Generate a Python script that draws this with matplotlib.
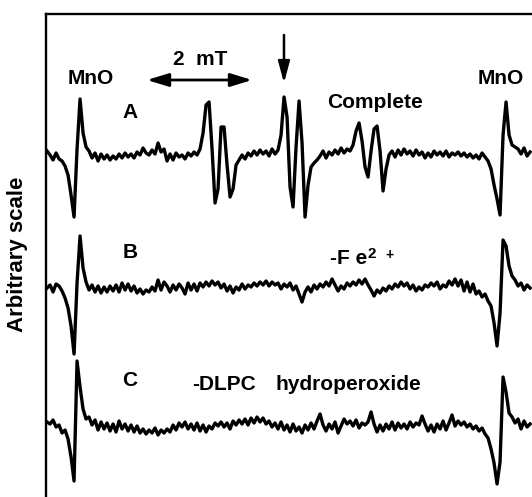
import numpy as np
import matplotlib
matplotlib.use("Agg")
import matplotlib.pyplot as plt

plt.rcParams["font.family"] = ["Liberation Sans", "DejaVu Sans"]
plt.rcParams["font.weight"] = "bold"

# magnetic field (mT) of each sample, left edge of the frame = 0
field = np.linspace(0.02, 9.22, 162)

# ESR signal of the three samples (arbitrary units, up = positive)
trace_a = [6, 2, -3, 4, -2, -4, -9, -18, -38, -60,
           8, 58, 24, 10, 6, -1, 4, -4, 3, -2,
           2, -3, 1, -2, 3, -1, 4, 0, 3, -1,
           5, 2, 9, 4, 2, 7, 3, 14, 5, 8,
           -4, 3, -3, 4, 0, 2, -2, 4, 1, 5,
           2, 8, 24, 52, 55, 8, -46, -32, 30, 30,
           -8, -40, -32, -8, -3, 2, -2, 4, 1, 6,
           2, 7, 3, 6, 1, 8, 3, 7, 22, 60,
           40, -30, -50, 10, 56, 14, -60, -28, -10, -6,
           -3, 1, 6, -1, 5, 2, 7, 3, 9, 4,
           8, 6, 12, 26, 34, 16, -10, -20, 6, 28,
           31, 6, -34, -12, 2, 6, 0, 7, 2, 8,
           3, 6, 1, 7, 2, 5, -1, 4, 0, 6,
           2, 5, 1, 6, 0, 4, 2, 5, 1, 4,
           0, 3, -1, 2, -2, 4, 0, -4, -12, -28,
           -42, -58, 22, 55, 22, 12, 10, 8, 3, 9,
           1, 5]

trace_b = [0, 3, -4, 4, 2, -3, -10, -20, -38, -66,
           5, 52, 20, 6, -2, 3, -4, 2, -5, 1,
           -4, 2, -3, 3, -4, 5, -2, 4, -3, 2,
           -5, -1, -6, -2, -4, 1, -3, 8, -2, 6,
           2, -4, 3, -2, 4, 0, -6, 5, -2, 4,
           -3, 5, 1, 6, 2, 7, 3, 6, 0, 4,
           -3, 2, -5, 1, -2, 4, -1, 3, 1, 5,
           2, 6, 3, 7, 2, 6, 3, 5, -1, 4,
           1, 5, -2, 2, -6, -14, -4, 1, -4, 3,
           -1, 4, 1, 6, 2, 9, 3, -3, 2, -1,
           5, 2, 6, 3, 8, 4, 9, 3, -2, -8,
           -2, -5, 0, -3, 2, -1, 4, 1, 6, 2,
           5, -1, 3, -3, 1, -2, 3, 1, 5, 2,
           6, -1, 3, 1, 7, 3, 9, 2, 8, -3,
           6, -4, 4, -6, -3, -9, -6, -13, -18, -35,
           -58, -25, 48, 42, 22, 12, 8, 2, 5, -2,
           3, 0]

trace_c = [5, 3, 7, 0, 2, -6, -3, -12, -30, -54,
           66, 40, 18, 8, 10, 2, 7, -3, 5, -2,
           4, -4, 3, -5, 6, -2, 3, -4, 2, -5,
           1, -6, -2, -7, -3, -6, -1, -8, -3, -6,
           -2, -5, 2, -3, 4, 0, 5, -2, 3, -3,
           4, -4, 2, -5, 1, -2, 4, 1, 5, 0,
           4, -2, 6, 2, 7, 3, 8, 2, 9, 4,
           10, 5, 9, 3, 6, 0, 4, -2, 5, -3,
           2, -5, 3, -4, 0, -6, 2, -3, 4, -2,
           6, 13, 2, -4, 3, -2, 5, -6, 1, 8,
           3, 6, 1, 7, -1, 4, 2, 5, 15, 3,
           -5, 2, -4, 3, -2, 5, -3, 4, -1, 3,
           -2, 5, 0, 4, 2, 11, 3, -4, 2, -5,
           3, -2, 6, -3, 4, 12, 1, 6, 2, 5,
           0, 3, -2, 1, -4, -1, -7, -11, -22, -36,
           -57, -35, 50, 35, 14, 10, 4, 8, -2, 6,
           0, 3]

traces = [trace_a, trace_b, trace_c]
offsets = [340, 209, 70]
labels = ["A", "B", "C"]

fig = plt.figure(figsize=(5.32, 4.97), dpi=100)
ax = fig.add_axes([46 / 532, 0, 486 / 532, 483.5 / 497])
ax.set_xlim(0, 486 / 52.5)
ax.set_ylim(0, 483.5)
ax.set_xticks([])
ax.set_yticks([])
for side in ["right", "bottom"]:
    ax.spines[side].set_visible(False)
for side in ["left", "top"]:
    ax.spines[side].set_linewidth(1.7)

for sig, off in zip(traces, offsets):
    ax.plot(field, np.array(sig) + off, color="black", lw=2.4,
            solid_joinstyle="round")

fs = 15
# sample letters
for lab, yy in zip(labels, [384, 244, 117]):
    ax.text(1.6, yy, lab, fontsize=fs, fontweight="bold", ha="center", va="center")

ax.text(0.857, 419, "MnO", fontsize=fs, fontweight="bold", ha="center", va="center")
ax.text(8.667, 419, "MnO", fontsize=fs, fontweight="bold", ha="center", va="center")
ax.text(6.267, 394, "Complete", fontsize=fs, fontweight="bold", ha="center", va="center")

# -Fe2+
ax.text(5.41, 238, "-F e", fontsize=fs, fontweight="bold", ha="left", va="center")
ax.text(6.13, 243, "2", fontsize=11, fontweight="bold", ha="left", va="center")
ax.text(6.543, 242, "+", fontsize=10, fontweight="bold", ha="center", va="center")

ax.text(2.781, 112, "-DLPC", fontsize=fs, fontweight="bold", ha="left", va="center")
ax.text(4.362, 112, "hydroperoxide", fontsize=fs, fontweight="bold", ha="left", va="center")

# 2 mT scale bar
ax.text(2.933, 437.5, "2  mT", fontsize=fs, fontweight="bold", ha="center", va="center")
ax.annotate("", xy=(1.924, 417), xytext=(3.924, 417),
            arrowprops=dict(arrowstyle="<|-|>,head_length=1.3,head_width=0.4",
                            color="black", lw=2.0, shrinkA=0, shrinkB=0))

# marker arrow
ax.annotate("", xy=(4.533, 414), xytext=(4.533, 462),
            arrowprops=dict(arrowstyle="-|>,head_length=1.3,head_width=0.35",
                            color="black", lw=1.8, shrinkA=0, shrinkB=0))

fig.text(18 / 532, 1 - 254 / 497, "Arbitrary scale", rotation=90, fontsize=16,
         fontweight="bold", ha="center", va="center")

fig.savefig("out.png", dpi=100)
